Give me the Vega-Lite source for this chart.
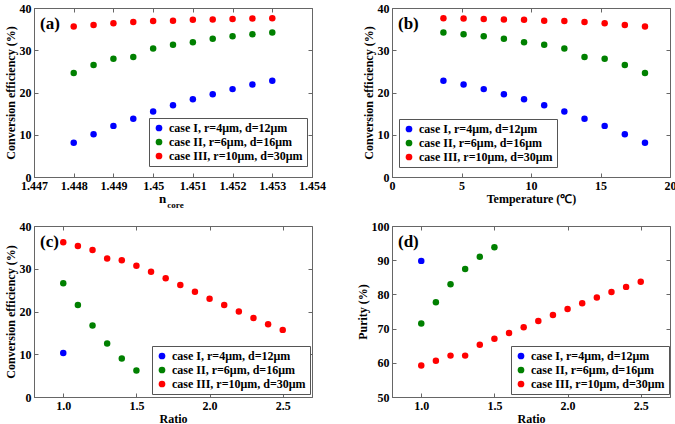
{
  "$schema": "https://vega.github.io/schema/vega-lite/v6.json",
  "padding": {"left": 3, "top": 1, "right": 0, "bottom": 0},
  "background": "white",
  "datasets": {
    "ab": [
      {"case": "case I, r=4μm, d=12μm", "n": 1.448, "T": 18.2, "eff": 8.1},
      {"case": "case I, r=4μm, d=12μm", "n": 1.4485, "T": 16.75, "eff": 10.1},
      {"case": "case I, r=4μm, d=12μm", "n": 1.449, "T": 15.3, "eff": 12.1},
      {"case": "case I, r=4μm, d=12μm", "n": 1.4495, "T": 13.85, "eff": 13.8},
      {"case": "case I, r=4μm, d=12μm", "n": 1.45, "T": 12.4, "eff": 15.5},
      {"case": "case I, r=4μm, d=12μm", "n": 1.4505, "T": 10.95, "eff": 17.0},
      {"case": "case I, r=4μm, d=12μm", "n": 1.451, "T": 9.5, "eff": 18.4},
      {"case": "case I, r=4μm, d=12μm", "n": 1.4515, "T": 8.05, "eff": 19.6},
      {"case": "case I, r=4μm, d=12μm", "n": 1.452, "T": 6.6, "eff": 20.8},
      {"case": "case I, r=4μm, d=12μm", "n": 1.4525, "T": 5.15, "eff": 21.9},
      {"case": "case I, r=4μm, d=12μm", "n": 1.453, "T": 3.7, "eff": 22.8},
      {"case": "case II, r=6μm, d=16μm", "n": 1.448, "T": 18.2, "eff": 24.6},
      {"case": "case II, r=6μm, d=16μm", "n": 1.4485, "T": 16.75, "eff": 26.5},
      {"case": "case II, r=6μm, d=16μm", "n": 1.449, "T": 15.3, "eff": 28.0},
      {"case": "case II, r=6μm, d=16μm", "n": 1.4495, "T": 13.85, "eff": 28.4},
      {"case": "case II, r=6μm, d=16μm", "n": 1.45, "T": 12.4, "eff": 30.4},
      {"case": "case II, r=6μm, d=16μm", "n": 1.4505, "T": 10.95, "eff": 31.3},
      {"case": "case II, r=6μm, d=16μm", "n": 1.451, "T": 9.5, "eff": 31.9},
      {"case": "case II, r=6μm, d=16μm", "n": 1.4515, "T": 8.05, "eff": 32.7},
      {"case": "case II, r=6μm, d=16μm", "n": 1.452, "T": 6.6, "eff": 33.3},
      {"case": "case II, r=6μm, d=16μm", "n": 1.4525, "T": 5.15, "eff": 33.8},
      {"case": "case II, r=6μm, d=16μm", "n": 1.453, "T": 3.7, "eff": 34.2},
      {"case": "case III, r=10μm, d=30μm", "n": 1.448, "T": 18.2, "eff": 35.6},
      {"case": "case III, r=10μm, d=30μm", "n": 1.4485, "T": 16.75, "eff": 36.0},
      {"case": "case III, r=10μm, d=30μm", "n": 1.449, "T": 15.3, "eff": 36.4},
      {"case": "case III, r=10μm, d=30μm", "n": 1.4495, "T": 13.85, "eff": 36.7},
      {"case": "case III, r=10μm, d=30μm", "n": 1.45, "T": 12.4, "eff": 36.9},
      {"case": "case III, r=10μm, d=30μm", "n": 1.4505, "T": 10.95, "eff": 37.0},
      {"case": "case III, r=10μm, d=30μm", "n": 1.451, "T": 9.5, "eff": 37.2},
      {"case": "case III, r=10μm, d=30μm", "n": 1.4515, "T": 8.05, "eff": 37.3},
      {"case": "case III, r=10μm, d=30μm", "n": 1.452, "T": 6.6, "eff": 37.4},
      {"case": "case III, r=10μm, d=30μm", "n": 1.4525, "T": 5.15, "eff": 37.5},
      {"case": "case III, r=10μm, d=30μm", "n": 1.453, "T": 3.7, "eff": 37.6}
    ],
    "cd": [
      {"case": "case I, r=4μm, d=12μm", "ratio": 1.0, "eff": 10.3, "purity": 89.8},
      {"case": "case II, r=6μm, d=16μm", "ratio": 1.0, "eff": 26.6, "purity": 71.5},
      {"case": "case II, r=6μm, d=16μm", "ratio": 1.1, "eff": 21.5, "purity": 77.7},
      {"case": "case II, r=6μm, d=16μm", "ratio": 1.2, "eff": 16.7, "purity": 83.0},
      {"case": "case II, r=6μm, d=16μm", "ratio": 1.3, "eff": 12.5, "purity": 87.4},
      {"case": "case II, r=6μm, d=16μm", "ratio": 1.4, "eff": 9.0, "purity": 91.0},
      {"case": "case II, r=6μm, d=16μm", "ratio": 1.5, "eff": 6.2, "purity": 93.8},
      {"case": "case III, r=10μm, d=30μm", "ratio": 1.0, "eff": 36.2, "purity": 59.2},
      {"case": "case III, r=10μm, d=30μm", "ratio": 1.1, "eff": 35.3, "purity": 60.6},
      {"case": "case III, r=10μm, d=30μm", "ratio": 1.2, "eff": 34.4, "purity": 62.1},
      {"case": "case III, r=10μm, d=30μm", "ratio": 1.3, "eff": 32.4, "purity": 62.1},
      {"case": "case III, r=10μm, d=30μm", "ratio": 1.4, "eff": 32.0, "purity": 65.3},
      {"case": "case III, r=10μm, d=30μm", "ratio": 1.5, "eff": 30.7, "purity": 67.0},
      {"case": "case III, r=10μm, d=30μm", "ratio": 1.6, "eff": 29.3, "purity": 68.7},
      {"case": "case III, r=10μm, d=30μm", "ratio": 1.7, "eff": 27.8, "purity": 70.4},
      {"case": "case III, r=10μm, d=30μm", "ratio": 1.8, "eff": 26.2, "purity": 72.2},
      {"case": "case III, r=10μm, d=30μm", "ratio": 1.9, "eff": 24.6, "purity": 74.0},
      {"case": "case III, r=10μm, d=30μm", "ratio": 2.0, "eff": 23.0, "purity": 75.7},
      {"case": "case III, r=10μm, d=30μm", "ratio": 2.1, "eff": 21.5, "purity": 77.4},
      {"case": "case III, r=10μm, d=30μm", "ratio": 2.2, "eff": 20.0, "purity": 79.1},
      {"case": "case III, r=10μm, d=30μm", "ratio": 2.3, "eff": 18.5, "purity": 80.7},
      {"case": "case III, r=10μm, d=30μm", "ratio": 2.4, "eff": 17.0, "purity": 82.2},
      {"case": "case III, r=10μm, d=30μm", "ratio": 2.5, "eff": 15.7, "purity": 83.7}
    ]
  },
  "columns": 2,
  "bounds": "flush",
  "spacing": {"row": 49, "column": 80},
  "resolve": {"scale": {"color": "independent"}, "legend": {"color": "independent"}},
  "concat": [
    {
      "width": 278, "height": 169,
      "layer": [
        {
          "data": {"name": "ab"},
          "mark": {"type": "point", "filled": true, "size": 42, "opacity": 1},
          "encoding": {
            "x": {"field": "n", "type": "quantitative", "scale": {"domain": [1.447, 1.454], "nice": false, "zero": false},
                  "axis": {"orient": "bottom", "values": [1.447, 1.448, 1.449, 1.45, 1.451, 1.452, 1.453, 1.454], "format": "~g", "labelOverlap": false, "labelFlush": false, "title": "n", "titleX": 128, "titleY": 25, "titleBaseline": "alphabetic", "titleFontSize": 13}},
            "y": {"field": "eff", "type": "quantitative", "scale": {"domain": [0, 40], "nice": false},
                  "axis": {"orient": "left", "values": [0, 10, 20, 30, 40], "title": "Conversion efficiency (%)"}},
            "color": {"field": "case", "type": "nominal",
                      "scale": {"domain": ["case I, r=4μm, d=12μm", "case II, r=6μm, d=16μm", "case III, r=10μm, d=30μm"], "range": ["#0000ff", "#008000", "#ff0000"]},
                      "legend": {"orient": "none", "legendX": 115, "legendY": 110}}
          }
        },
        {
          "data": {"values": [{}]},
          "mark": {"type": "text", "text": "(a)", "align": "left", "baseline": "alphabetic", "dx": 6, "dy": 21, "fontSize": 17, "fontWeight": "bold", "font": "Liberation Serif", "color": "black"},
          "encoding": {
            "x": {"datum": 1.447, "type": "quantitative", "scale": {"domain": [1.447, 1.454], "nice": false, "zero": false},
                  "axis": {"orient": "top", "values": [1.447, 1.448, 1.449, 1.45, 1.451, 1.452, 1.453, 1.454], "labels": false, "domain": false, "title": null}},
            "y": {"datum": 40, "type": "quantitative", "scale": {"domain": [0, 40], "nice": false},
                  "axis": {"orient": "right", "values": [0, 10, 20, 30, 40], "labels": false, "domain": false, "title": "core", "titleAngle": 0, "titleX": -137, "titleY": 199, "titleBaseline": "alphabetic", "titleAlign": "center", "titleFontSize": 9}}
          }
        }
      ],
      "resolve": {"axis": {"x": "independent", "y": "independent"}}
    },
    {
      "width": 278, "height": 169,
      "layer": [
        {
          "data": {"name": "ab"},
          "mark": {"type": "point", "filled": true, "size": 42, "opacity": 1},
          "encoding": {
            "x": {"field": "T", "type": "quantitative", "scale": {"domain": [0, 20], "nice": false},
                  "axis": {"orient": "bottom", "values": [0, 5, 10, 15, 20], "labelOverlap": false, "labelFlush": false, "title": "Temperature (℃)", "titlePadding": 2}},
            "y": {"field": "eff", "type": "quantitative", "scale": {"domain": [0, 40], "nice": false},
                  "axis": {"orient": "left", "values": [0, 10, 20, 30, 40], "title": "Conversion efficiency (%)"}},
            "color": {"field": "case", "type": "nominal",
                      "scale": {"domain": ["case I, r=4μm, d=12μm", "case II, r=6μm, d=16μm", "case III, r=10μm, d=30μm"], "range": ["#0000ff", "#008000", "#ff0000"]},
                      "legend": {"orient": "none", "legendX": 7, "legendY": 111}}
          }
        },
        {
          "data": {"values": [{}]},
          "mark": {"type": "text", "text": "(b)", "align": "left", "baseline": "alphabetic", "dx": 6, "dy": 21, "fontSize": 17, "fontWeight": "bold", "font": "Liberation Serif", "color": "black"},
          "encoding": {
            "x": {"datum": 0, "type": "quantitative", "scale": {"domain": [0, 20], "nice": false},
                  "axis": {"orient": "top", "values": [0, 5, 10, 15, 20], "labels": false, "domain": false, "title": null}},
            "y": {"datum": 40, "type": "quantitative", "scale": {"domain": [0, 40], "nice": false},
                  "axis": {"orient": "right", "values": [0, 10, 20, 30, 40], "labels": false, "domain": false, "title": null}}
          }
        }
      ],
      "resolve": {"axis": {"x": "independent", "y": "independent"}}
    },
    {
      "width": 278, "height": 171,
      "layer": [
        {
          "data": {"name": "cd"},
          "mark": {"type": "point", "filled": true, "size": 42, "opacity": 1},
          "encoding": {
            "x": {"field": "ratio", "type": "quantitative", "scale": {"domain": [0.8, 2.7], "nice": false, "zero": false},
                  "axis": {"orient": "bottom", "values": [1, 1.5, 2, 2.5], "labelOverlap": false, "labelFlush": false, "title": "Ratio", "titlePadding": 2}},
            "y": {"field": "eff", "type": "quantitative", "scale": {"domain": [0, 40], "nice": false},
                  "axis": {"orient": "left", "values": [0, 10, 20, 30, 40], "title": "Conversion efficiency (%)"}},
            "color": {"field": "case", "type": "nominal",
                      "scale": {"domain": ["case I, r=4μm, d=12μm", "case II, r=6μm, d=16μm", "case III, r=10μm, d=30μm"], "range": ["#0000ff", "#008000", "#ff0000"]},
                      "legend": {"orient": "none", "legendX": 118, "legendY": 120}}
          }
        },
        {
          "data": {"values": [{}]},
          "mark": {"type": "text", "text": "(c)", "align": "left", "baseline": "alphabetic", "dx": 6, "dy": 21, "fontSize": 17, "fontWeight": "bold", "font": "Liberation Serif", "color": "black"},
          "encoding": {
            "x": {"datum": 0.8, "type": "quantitative", "scale": {"domain": [0.8, 2.7], "nice": false, "zero": false},
                  "axis": {"orient": "top", "values": [1, 1.5, 2, 2.5], "labels": false, "domain": false, "title": null}},
            "y": {"datum": 40, "type": "quantitative", "scale": {"domain": [0, 40], "nice": false},
                  "axis": {"orient": "right", "values": [0, 10, 20, 30, 40], "labels": false, "domain": false, "title": null}}
          }
        }
      ],
      "resolve": {"axis": {"x": "independent", "y": "independent"}}
    },
    {
      "width": 278, "height": 171,
      "layer": [
        {
          "data": {"name": "cd"},
          "mark": {"type": "point", "filled": true, "size": 42, "opacity": 1},
          "encoding": {
            "x": {"field": "ratio", "type": "quantitative", "scale": {"domain": [0.8, 2.7], "nice": false, "zero": false},
                  "axis": {"orient": "bottom", "values": [1, 1.5, 2, 2.5], "labelOverlap": false, "labelFlush": false, "title": "Ratio", "titlePadding": 2}},
            "y": {"field": "purity", "type": "quantitative", "scale": {"domain": [50, 100], "nice": false, "zero": false},
                  "axis": {"orient": "left", "values": [50, 60, 70, 80, 90, 100], "title": "Purity (%)"}},
            "color": {"field": "case", "type": "nominal",
                      "scale": {"domain": ["case I, r=4μm, d=12μm", "case II, r=6μm, d=16μm", "case III, r=10μm, d=30μm"], "range": ["#0000ff", "#008000", "#ff0000"]},
                      "legend": {"orient": "none", "legendX": 119, "legendY": 120}}
          }
        },
        {
          "data": {"values": [{}]},
          "mark": {"type": "text", "text": "(d)", "align": "left", "baseline": "alphabetic", "dx": 6, "dy": 21, "fontSize": 17, "fontWeight": "bold", "font": "Liberation Serif", "color": "black"},
          "encoding": {
            "x": {"datum": 0.8, "type": "quantitative", "scale": {"domain": [0.8, 2.7], "nice": false, "zero": false},
                  "axis": {"orient": "top", "values": [1, 1.5, 2, 2.5], "labels": false, "domain": false, "title": null}},
            "y": {"datum": 100, "type": "quantitative", "scale": {"domain": [50, 100], "nice": false, "zero": false},
                  "axis": {"orient": "right", "values": [50, 60, 70, 80, 90, 100], "labels": false, "domain": false, "title": null}}
          }
        }
      ],
      "resolve": {"axis": {"x": "independent", "y": "independent"}}
    }
  ],
  "config": {
    "font": "Liberation Serif",
    "view": {"stroke": "#666666", "strokeWidth": 1},
    "style": {
      "guide-label": {"font": "Liberation Serif", "fontWeight": "bold"},
      "guide-title": {"font": "Liberation Serif", "fontWeight": "bold"}
    },
    "axis": {
      "labelFont": "Liberation Serif", "labelFontSize": 12, "labelFontWeight": "bold", "labelColor": "black",
      "titleFont": "Liberation Serif", "titleFontSize": 12, "titleFontWeight": "bold", "titleColor": "black",
      "domainColor": "#666666", "tickColor": "#666666", "tickSize": -4, "labelPadding": 7, "titlePadding": 2, "grid": false
    },
    "legend": {
      "title": null, "strokeColor": "#555555", "fillColor": "white", "padding": 4,
      "symbolType": "circle", "symbolSize": 45, "symbolStrokeWidth": 0, "symbolOpacity": 1,
      "labelFont": "Liberation Serif", "labelFontSize": 12, "labelFontWeight": "bold", "labelColor": "black",
      "rowPadding": 2, "labelOffset": 4
    }
  }
}
